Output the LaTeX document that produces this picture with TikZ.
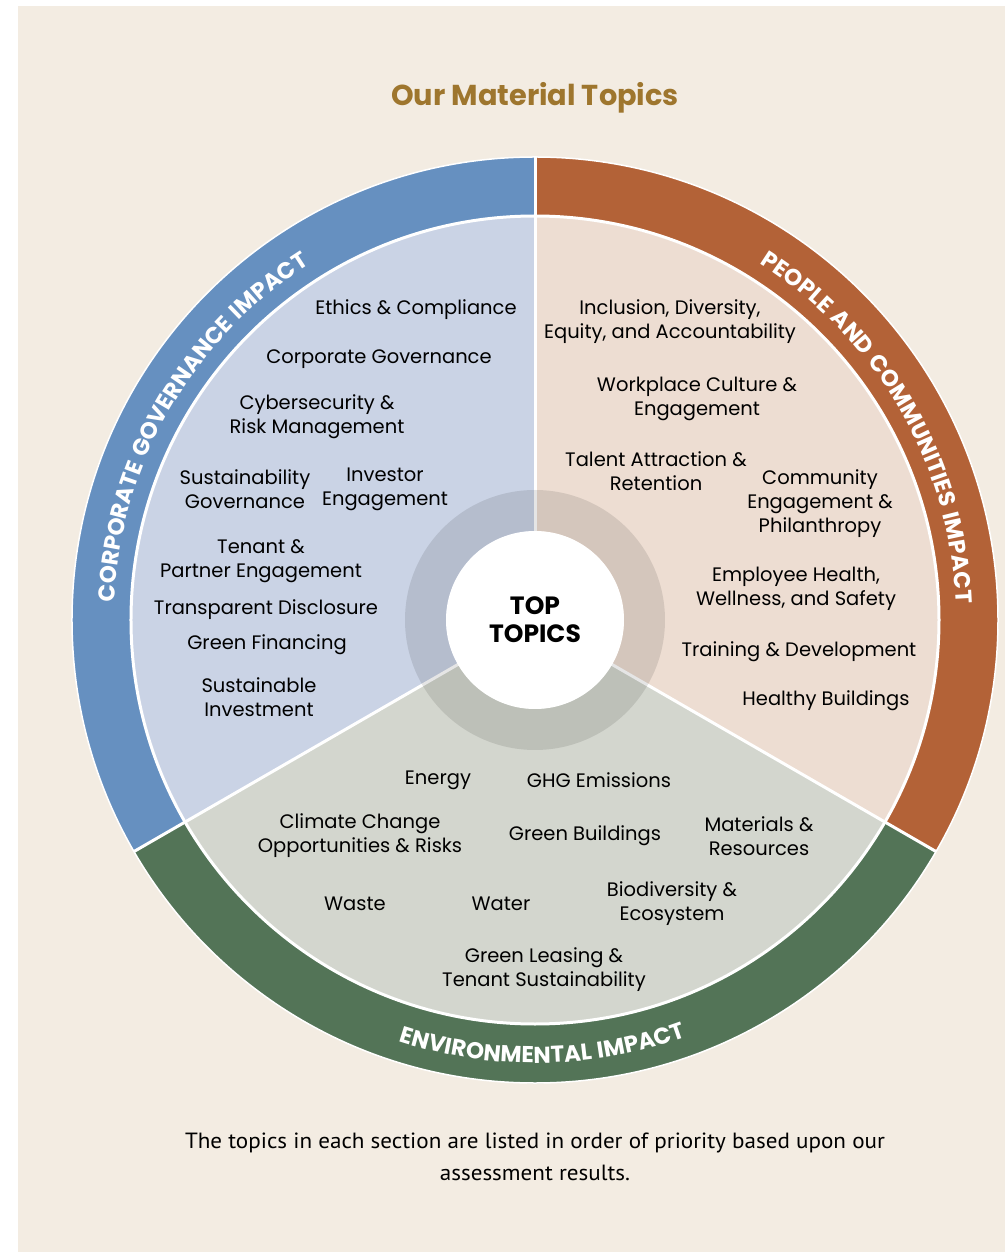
\documentclass[tikz,border=0pt]{standalone}
\usepackage{fontspec}
\setmainfont{Poppins}
\newfontfamily\notefont[FakeStretch=1.05]{PT Sans}
\newfontfamily\ringfont[LetterSpace=6]{Poppins}
\usetikzlibrary{decorations.text}

\definecolor{paper}{HTML}{F3ECE2}
\definecolor{titlegold}{HTML}{9E762E}
\definecolor{govdark}{HTML}{6690C0}
\definecolor{govlight}{HTML}{CAD3E5}
\definecolor{peopledark}{HTML}{B36237}
\definecolor{peoplelight}{HTML}{EDDDD2}
\definecolor{envdark}{HTML}{537457}
\definecolor{envlight}{HTML}{D3D6CE}

\newcommand\ringstyle{\ringfont\bfseries\fontsize{23}{26}\selectfont}

\begin{document}
\begin{tikzpicture}[
    x=1pt, y=1pt,
    topic/.style={
        font=\fontsize{19.5}{24}\selectfont,
        align=center,
        inner sep=0pt
    },
    ringlabel/.style={
        decorate,
        decoration={text along path, text align=center,
            text color=white, text={|\ringstyle|#1}}
    },
    divider/.style={white, line width=3pt}
]
\useasboundingbox (-535,-632) rectangle (470,620);
\fill[white] (-535,-632) rectangle (470,620);
\fill[paper] (-517,-632) rectangle (470,614);

\node (title) at (0,522) {\fontsize{28.8}{32}\selectfont\bfseries\color{titlegold}Our Material Topics};

% outer bands and inner sectors
\fill[govdark] (0,0) -- (90:463) arc[start angle=90, end angle=210, radius=463] -- cycle;
\fill[envdark] (0,0) -- (210:463) arc[start angle=210, end angle=330, radius=463] -- cycle;
\fill[peopledark] (0,0) -- (330:463) arc[start angle=330, end angle=450, radius=463] -- cycle;
\fill[govlight] (0,0) -- (90:403) arc[start angle=90, end angle=210, radius=403] -- cycle;
\fill[envlight] (0,0) -- (210:403) arc[start angle=210, end angle=330, radius=403] -- cycle;
\fill[peoplelight] (0,0) -- (330:403) arc[start angle=330, end angle=450, radius=403] -- cycle;

\draw[white, line width=1.5pt] (0,0) circle (463);
\draw[divider] (0,0) circle (404);
\foreach \a in {90,210,330}
    \draw[divider] (0,0) -- (\a:463);

% top topics hub
\fill[black, opacity=0.1, even odd rule] (0,0) circle (130) (0,0) circle (89);
\fill[white] (0,0) circle (89);
\node[font=\fontsize{25}{28}\selectfont\bfseries, align=center] (hub) at (0,0) {TOP\\TOPICS};

% band titles
\path[ringlabel={CORPORATE GOVERNANCE IMPACT}]
    (210:421) arc[start angle=210, end angle=90, radius=421];
\path[ringlabel={PEOPLE AND COMMUNITIES IMPACT}]
    (90:421) arc[start angle=90, end angle=-30, radius=421];
\path[ringlabel={ENVIRONMENTAL IMPACT}]
    (210:443) arc[start angle=210, end angle=332, radius=443];

% corporate governance topics
\node[topic] (ethics) at (-119,310) {Ethics \& Compliance};
\node[topic] (corpgov) at (-156,261) {Corporate Governance};
\node[topic] (cyber) at (-218,203) {Cybersecurity \&\\Risk Management};
\node[topic] (susgov) at (-290,131) {Sustainability\\Governance};
\node[topic] (investor) at (-150,131) {Investor\\Engagement};
\node[topic] (tenant) at (-274,59) {Tenant \&\\Partner Engagement};
\node[topic] (disclosure) at (-269,10) {Transparent Disclosure};
\node[topic] (finance) at (-268,-25) {Green Financing};
\node[topic] (susinv) at (-276,-77) {Sustainable\\Investment};

% people and communities topics
\node[topic] (inclusion) at (135,298) {Inclusion, Diversity,\\Equity, and Accountability};
\node[topic] (culture) at (162,221) {Workplace Culture \&\\Engagement};
\node[topic] (talent) at (121,149) {Talent Attraction \&\\Retention};
\node[topic] (community) at (285,116) {Community\\Engagement \&\\Philanthropy};
\node[topic] (health) at (261,31) {Employee Health,\\Wellness, and Safety};
\node[topic] (training) at (264,-32) {Training \& Development};
\node[topic] (healthy) at (291,-81) {Healthy Buildings};

% environmental topics
\node[topic] (energy) at (-97,-160) {Energy};
\node[topic] (ghg) at (64,-160) {GHG Emissions};
\node[topic] (climate) at (-175,-216) {Climate Change\\Opportunities \& Risks};
\node[topic] (greenbld) at (50,-216) {Green Buildings};
\node[topic] (materials) at (224,-216) {Materials \&\\Resources};
\node[topic] (waste) at (-180,-284) {Waste};
\node[topic] (water) at (-34,-284) {Water};
\node[topic] (biodiv) at (137,-284) {Biodiversity \&\\Ecosystem};
\node[topic] (leasing) at (9,-350) {Green Leasing \&\\Tenant Sustainability};

\node[font=\notefont\fontsize{22}{32}\selectfont, align=center] (note) at (0,-537)
    {The topics in each section are listed in order of priority based upon our\\assessment results.};
\end{tikzpicture}
\end{document}
